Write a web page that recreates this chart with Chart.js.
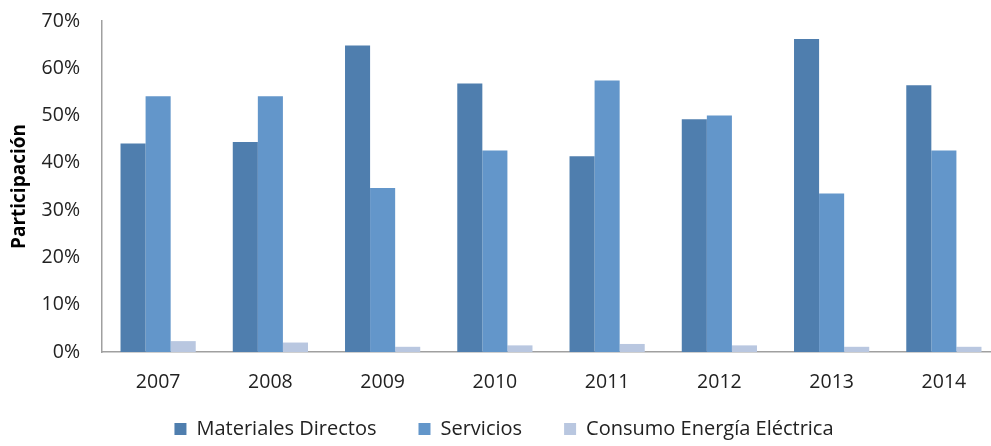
<!DOCTYPE html>
<html>
<head>
<meta charset="utf-8">
<script src="https://cdn.jsdelivr.net/npm/chart.js@4"></script>
<style>
  html, body { margin: 0; padding: 0; background: #fff; overflow: hidden; }
  #wrap { width: 1000px; height: 446px; }
</style>
</head>
<body>
<div id="wrap"><canvas id="chart"></canvas></div>
<script>
var years = ["2007", "2008", "2009", "2010", "2011", "2012", "2013", "2014"];
var materialesDirectos = [44.1, 44.4, 64.8, 56.8, 41.4, 49.2, 66.2, 56.4];
var servicios = [54.1, 54.1, 34.7, 42.6, 57.4, 50.0, 33.5, 42.6];
var consumoEnergia = [2.3, 2.0, 1.1, 1.4, 1.7, 1.4, 1.1, 1.1];
var yTicks = [0, 10, 20, 30, 40, 50, 60, 70];

var font = "'Open Sans', 'Liberation Sans', sans-serif";

// year labels hang below the short x box, so let them draw past it
var xLabelRoom = {
    id: "xLabelRoom",
    afterLayout: function (c) { c.scales.x.bottom = c.height; }
};

var chart = new Chart(
    document.getElementById("chart"),
    {
        "type": "bar",
        "data": {
            "labels": years,
            "datasets": [
                {
                    "label": "Materiales Directos",
                    "data": materialesDirectos,
                    "backgroundColor": "#4f7eae",
                    "borderWidth": 0
                },
                {
                    "label": "Servicios",
                    "data": servicios,
                    "backgroundColor": "#6396ca",
                    "borderWidth": 0
                },
                {
                    "label": "Consumo Energía Eléctrica",
                    "data": consumoEnergia,
                    "backgroundColor": "#b9c7e0",
                    "borderWidth": 0
                }
            ]
        },
        "plugins": [xLabelRoom],
        "options": {
            "responsive": true,
            "maintainAspectRatio": false,
            "animation": false,
            "layout": { "padding": { "top": 0, "right": 0, "left": 8, "bottom": 0 } },
            "datasets": {
                "bar": { "categoryPercentage": 0.67, "barPercentage": 1.0 }
            },
            "plugins": {
                "legend": {
                    "position": "bottom",
                    "maxHeight": 69,
                    "labels": {
                        "boxWidth": 12,
                        "boxHeight": 12,
                        "padding": 42,
                        "color": "#222",
                        "font": { "family": font, "size": 20 }
                    }
                },
                "tooltip": { "enabled": false }
            },
            "scales": {
                "x": {
                    "afterFit": function (scale) {
                        scale.height = 25;
                        scale.paddingLeft = 0;
                        scale.paddingRight = 0;
                    },
                    "grid": { "display": false, "drawTicks": false },
                    "border": { "color": "#a0a0a0", "width": 1.5 },
                    "ticks": {
                        "color": "#222",
                        "padding": 19,
                        "font": { "family": font, "size": 19.5 }
                    }
                },
                "y": {
                    "min": 0,
                    "max": 70,
                    "afterBuildTicks": function (axis) {
                        axis.ticks = yTicks.map(function (v) { return { value: v }; });
                    },
                    "afterFit": function (scale) {
                        scale.width = 94;
                        scale.paddingTop = 21;
                        scale.paddingBottom = 0;
                    },
                    "grid": { "display": false, "drawTicks": false },
                    "border": { "color": "#a0a0a0", "width": 1.5 },
                    "ticks": {
                        "color": "#222",
                        "padding": 22,
                        "font": { "family": font, "size": 19.5 },
                        "callback": function (v) { return v + "%"; }
                    },
                    "title": {
                        "display": true,
                        "text": "Participación",
                        "color": "#000",
                        "padding": 0,
                        "font": { "family": font, "size": 19, "weight": "bold" }
                    }
                }
            }
        }
    });
</script>
</body>
</html>
